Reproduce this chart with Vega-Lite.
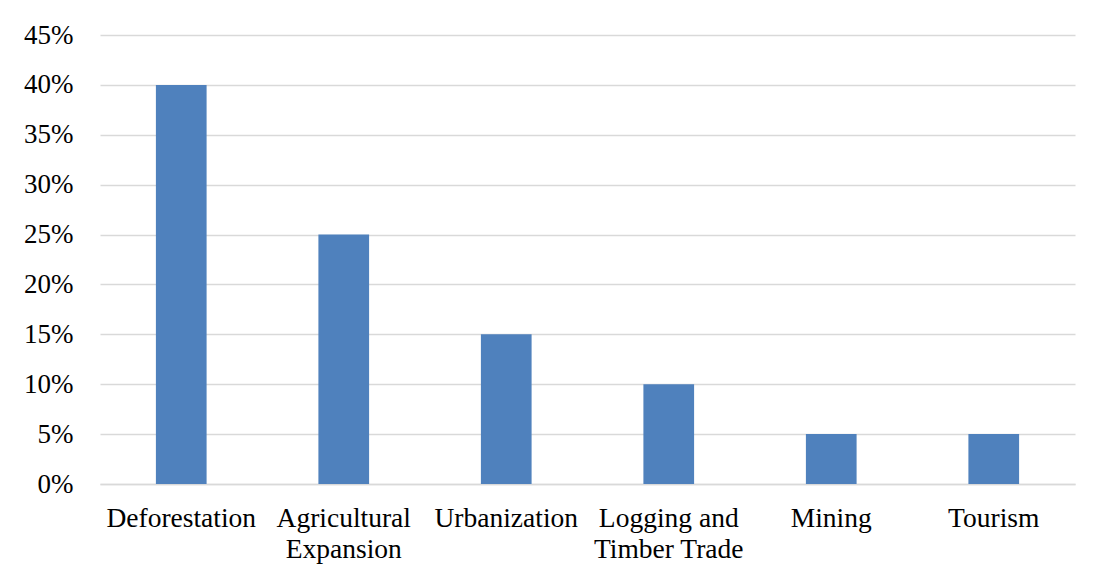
{
  "$schema": "https://vega.github.io/schema/vega-lite/v6.json",
  "width": 975,
  "height": 449,
  "autosize": {"type": "none"},
  "padding": {"left": 100, "top": 35, "right": 18, "bottom": 93},
  "background": "white",
  "config": {
    "view": {"stroke": null},
    "font": "Liberation Serif",
    "axis": {"labelFont": "Liberation Serif", "labelFontSize": 27.5, "labelColor": "#000000"}
  },
  "data": {
    "values": [
      {"cause": "Deforestation", "share": 0.40},
      {"cause": "Agricultural Expansion", "share": 0.25},
      {"cause": "Urbanization", "share": 0.15},
      {"cause": "Logging and Timber Trade", "share": 0.10},
      {"cause": "Mining", "share": 0.05},
      {"cause": "Tourism", "share": 0.05}
    ]
  },
  "mark": {"type": "bar", "color": "#4f81bd"},
  "encoding": {
    "x": {
      "field": "cause",
      "type": "nominal",
      "sort": null,
      "scale": {"paddingInner": 0.688, "paddingOuter": 0.344},
      "axis": {
        "title": null,
        "labelAngle": 0,
        "labelFont": "Liberation Serif",
        "labelFontSize": 27.5,
        "labelColor": "#000000",
        "labelPadding": 20,
        "labelLineHeight": 31,
        "labelBaseline": "top",
        "ticks": false,
        "domain": true,
        "domainColor": "#d9d9d9",
        "domainWidth": 1.5,
        "labelExpr": "datum.value == 'Agricultural Expansion' ? ['Agricultural', 'Expansion'] : datum.value == 'Logging and Timber Trade' ? ['Logging and', 'Timber Trade'] : datum.value"
      }
    },
    "y": {
      "field": "share",
      "type": "quantitative",
      "scale": {"domain": [0, 0.45], "nice": false},
      "axis": {
        "title": null,
        "format": ".0%",
        "values": [0, 0.05, 0.1, 0.15, 0.2, 0.25, 0.3, 0.35, 0.4, 0.45],
        "labelFont": "Liberation Serif",
        "labelFontSize": 27,
        "labelColor": "#000000",
        "labelPadding": 27,
        "ticks": false,
        "domain": false,
        "grid": true,
        "gridColor": "#d9d9d9",
        "gridWidth": 1.5
      }
    }
  }
}
